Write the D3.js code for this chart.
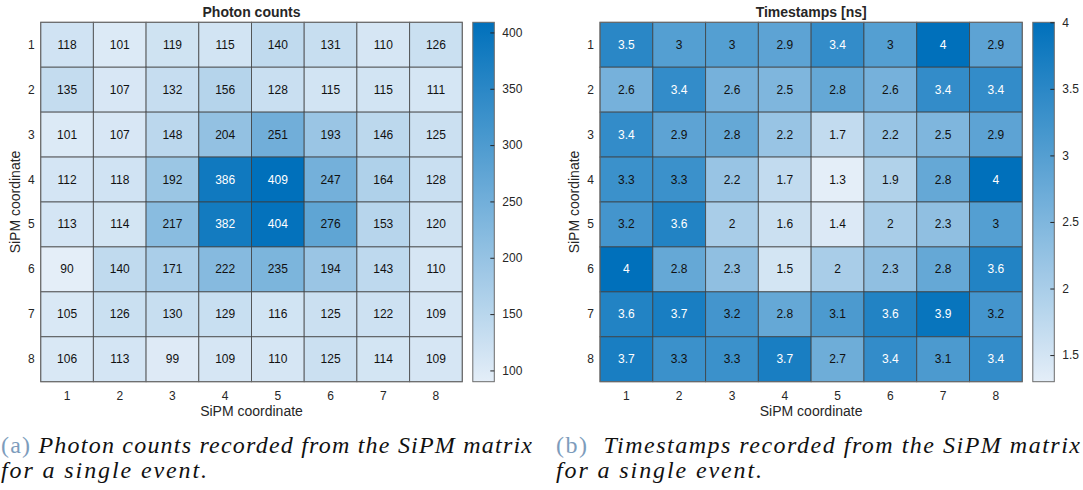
<!DOCTYPE html>
<html>
<head>
<meta charset="utf-8">
<script src="https://cdn.jsdelivr.net/npm/d3@7"></script>
<style>
  html, body { margin: 0; padding: 0; background: #fff; overflow: hidden; }
  svg { display: block; }
  .tick-label { font-family: "Liberation Sans", Arial, sans-serif; font-size: 12px; fill: #262626; }
  .cell-label { font-family: "Liberation Sans", Arial, sans-serif; font-size: 12px; }
  .title { font-family: "Liberation Sans", Arial, sans-serif; font-size: 14px; font-weight: bold; fill: #262626; }
  .axis-label { font-family: "Liberation Sans", Arial, sans-serif; font-size: 14px; fill: #262626; }
  .caption { font-family: "Liberation Serif", "DejaVu Serif", serif; font-size: 24px; font-style: italic; fill: #111; }
  .caption-tag { font-style: normal; fill: #7d9cbc; }
</style>
</head>
<body>
<svg id="fig" width="1083" height="490"></svg>
<script>
// SiPM matrix coordinates (rows and columns, 1..8)
const rows = [1, 2, 3, 4, 5, 6, 7, 8];
const cols = [1, 2, 3, 4, 5, 6, 7, 8];

// Photon counts per SiPM (row-major)
const photonCounts = [
  [118, 101, 119, 115, 140, 131, 110, 126],
  [135, 107, 132, 156, 128, 115, 115, 111],
  [101, 107, 148, 204, 251, 193, 146, 125],
  [112, 118, 192, 386, 409, 247, 164, 128],
  [113, 114, 217, 382, 404, 276, 153, 120],
  [ 90, 140, 171, 222, 235, 194, 143, 110],
  [105, 126, 130, 129, 116, 125, 122, 109],
  [106, 113,  99, 109, 110, 125, 114, 109]
];

// Timestamps per SiPM in ns (row-major)
const timestamps = [
  [3.5, 3.0, 3.0, 2.9, 3.4, 3.0, 4.0, 2.9],
  [2.6, 3.4, 2.6, 2.5, 2.8, 2.6, 3.4, 3.4],
  [3.4, 2.9, 2.8, 2.2, 1.7, 2.2, 2.5, 2.9],
  [3.3, 3.3, 2.2, 1.7, 1.3, 1.9, 2.8, 4.0],
  [3.2, 3.6, 2.0, 1.6, 1.4, 2.0, 2.3, 3.0],
  [4.0, 2.8, 2.3, 1.5, 2.0, 2.3, 2.8, 3.6],
  [3.6, 3.7, 3.2, 2.8, 3.1, 3.6, 3.9, 3.2],
  [3.7, 3.3, 3.3, 3.7, 2.7, 3.4, 3.1, 3.4]
];

// Colorbar tick values
const photonTicks = [100, 150, 200, 250, 300, 350, 400];
const timeTicks = [1.5, 2, 2.5, 3, 3.5, 4];

const titles = ["Photon counts", "Timestamps [ns]"];
const axisTitle = "SiPM coordinate";
const captionTags = ["(a)", "(b)"];
const captionLines1 = [" Photon counts recorded from the SiPM matrix", "  Timestamps recorded from the SiPM matrix"];
const captionLines2 = ["for a single event.", "for a single event."];

const svg = d3.select("#fig");

// Blue heatmap colormap (light to dark)
const lowColor = d3.rgb(228, 238, 248);
const highColor = d3.rgb(0, 112, 187);
const ramp = d3.interpolateRgb(lowColor, highColor);

function drawHeatmap(cfg) {
  const { x0, y0, w, h, data, ticks, title } = cfg;
  const flat = data.flat();
  const vmin = d3.min(flat), vmax = d3.max(flat);
  const norm = d3.scaleLinear().domain([vmin, vmax]).range([0, 1]);
  const color = v => ramp(norm(v));

  const x = d3.scaleBand().domain(cols).range([x0, x0 + w]);
  const y = d3.scaleBand().domain(rows).range([y0, y0 + h]);

  const g = svg.append("g");

  const cells = [];
  data.forEach((row, i) => row.forEach((v, j) => cells.push({ r: rows[i], c: cols[j], v })));

  g.selectAll("rect.cell").data(cells).enter().append("rect")
    .attr("class", "cell")
    .attr("x", d => x(d.c)).attr("y", d => y(d.r))
    .attr("width", x.bandwidth()).attr("height", y.bandwidth())
    .attr("fill", d => color(d.v))
    .attr("stroke", "#3c3c3c").attr("stroke-opacity", 0.75).attr("stroke-width", 1);

  // light text on dark cells, dark text elsewhere
  g.selectAll("text.cell-label").data(cells).enter().append("text")
    .attr("class", "cell-label")
    .attr("x", d => x(d.c) + x.bandwidth() / 2)
    .attr("y", d => y(d.r) + y.bandwidth() / 2)
    .attr("text-anchor", "middle").attr("dominant-baseline", "central")
    .attr("fill", d => norm(d.v) > 0.76 ? "#ffffff" : "#111111")
    .text(d => d.v);

  // outer frame
  g.append("rect").attr("x", x0).attr("y", y0).attr("width", w).attr("height", h)
    .attr("fill", "none").attr("stroke", "#6b6b6b").attr("stroke-width", 1);

  // row tick labels
  g.selectAll("text.row").data(rows).enter().append("text")
    .attr("class", "tick-label")
    .attr("x", x0 - 6).attr("y", d => y(d) + y.bandwidth() / 2)
    .attr("text-anchor", "end").attr("dominant-baseline", "central")
    .text(d => d);

  // column tick labels
  g.selectAll("text.col").data(cols).enter().append("text")
    .attr("class", "tick-label")
    .attr("x", d => x(d) + x.bandwidth() / 2).attr("y", y0 + h + 14)
    .attr("text-anchor", "middle").attr("dominant-baseline", "central")
    .text(d => d);

  // title
  g.append("text").attr("class", "title")
    .attr("x", x0 + w / 2).attr("y", y0 - 5.5)
    .attr("text-anchor", "middle")
    .text(title);

  // axis labels
  g.append("text").attr("class", "axis-label")
    .attr("x", x0 + w / 2).attr("y", y0 + h + 34)
    .attr("text-anchor", "middle")
    .text(axisTitle);
  g.append("text").attr("class", "axis-label")
    .attr("transform", `translate(${x0 - 21},${y0 + h / 2}) rotate(-90)`)
    .attr("text-anchor", "middle")
    .text(axisTitle);

  // colorbar
  const cbx = x0 + w + 10.5, cbw = 21.5;
  const cy = d3.scaleLinear().domain([vmin, vmax]).range([y0 + h, y0]);
  const gradId = "grad-" + cfg.id;
  const grad = svg.append("defs").append("linearGradient")
    .attr("id", gradId).attr("x1", 0).attr("y1", 1).attr("x2", 0).attr("y2", 0);
  d3.range(0, 1.0001, 0.1).forEach(t => {
    grad.append("stop").attr("offset", t).attr("stop-color", ramp(t));
  });
  g.append("rect").attr("x", cbx).attr("y", y0).attr("width", cbw).attr("height", h)
    .attr("fill", `url(#${gradId})`).attr("stroke", "#6b6b6b").attr("stroke-width", 1);

  const cbAxis = d3.axisRight(cy).tickValues(ticks).tickSize(-4).tickPadding(8)
    .tickFormat(d3.format("~g"));
  const ag = g.append("g").attr("transform", `translate(${cbx + cbw},0)`).call(cbAxis);
  ag.select(".domain").remove();
  ag.selectAll(".tick line").attr("stroke", "#262626");
  ag.selectAll(".tick text").attr("class", "tick-label").attr("fill", null);
  ag.attr("font-family", null).attr("font-size", null);
}

drawHeatmap({ id: "a", x0: 40.7, y0: 22.3, w: 421.6, h: 359.4, data: photonCounts, ticks: photonTicks, title: titles[0] });
drawHeatmap({ id: "b", x0: 600, y0: 22.3, w: 422.3, h: 359.4, data: timestamps, ticks: timeTicks, title: titles[1] });

// sub-figure captions
const capX = [1, 556];
const capWidth1 = [531, 524];
const capWidth2 = [206, 206];
[0, 1].forEach(k => {
  const t = svg.append("text").attr("class", "caption")
    .attr("x", capX[k]).attr("y", 453)
    .attr("textLength", capWidth1[k]).attr("lengthAdjust", "spacing");
  t.append("tspan").attr("class", "caption-tag").text(captionTags[k]);
  t.append("tspan").attr("xml:space", "preserve").text(captionLines1[k]);
  svg.append("text").attr("class", "caption")
    .attr("x", capX[k]).attr("y", 478)
    .attr("textLength", capWidth2[k]).attr("lengthAdjust", "spacing")
    .text(captionLines2[k]);
});
</script>
</body>
</html>
